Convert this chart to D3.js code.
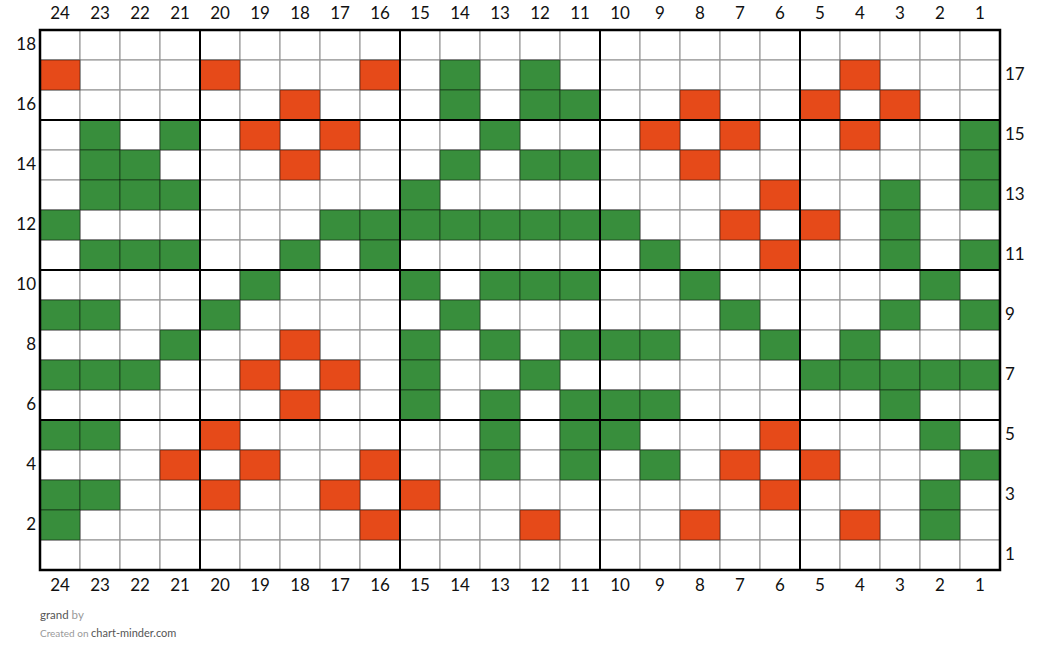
<!DOCTYPE html>
<html><head><meta charset="utf-8">
<script src="https://cdn.jsdelivr.net/npm/d3@7"></script>
<style>
html,body{margin:0;padding:0;background:#fff;}
text{font-family:Lato,"Noto Sans",sans-serif;}
</style></head>
<body><svg id="c" width="1040" height="663"></svg>
<script>
// Column numbers (left to right) and row numbers (top to bottom)
const columns = d3.range(24, 0, -1);
const rowNumbers = d3.range(18, 0, -1);
// Pattern rows, top (18) to bottom (1); chars left→right = columns 24..1
// '.' = empty, 'R' = orange, 'G' = green
const patternRows = [
  "........................", // 18
  "R...R...R.G.G.......R...", // 17
  "......R...G.GG..R..R.R..", // 16
  ".G.G.R.R...G...R.R..R..G", // 15
  ".GG...R...G.GG..R......G", // 14
  ".GGG.....G........R..G.G", // 13
  "G......GGGGGGGG..R.R.G..", // 12
  ".GGG..G.G......G..R..G.G", // 11
  ".....G...G.GGG..G.....G.", // 10
  "GG..G.....G......G...G.G", // 9
  "...G..R..G.G.GGG..G.G...", // 8
  "GGG..R.R.G..G......GGGGG", // 7
  "......R..G.G.GGG.....G..", // 6
  "GG..R......G.GG...R...G.", // 5
  "...R.R..R..G.G.G.R.R...G", // 4
  "GG..R..R.R........R...G.", // 3
  "G.......R...R...R...R.G.", // 2
  "........................"  // 1
];
const colorCodes = ["R", "G"];
const colorValues = ["#e64a19", "#388e3c"];
const leftLabels = [18, 16, 14, 12, 10, 8, 6, 4, 2];
const rightLabels = [17, 15, 13, 11, 9, 7, 5, 3, 1];
const colGroupBreaks = [20, 15, 10, 5];   // thick line right of these columns' left neighbours
const rowGroupBreaks = [15, 10, 5];       // thick line at top of these rows

const margin = {left: 40, top: 30};
const W = 960, H = 540;
const svg = d3.select("#c");
const g = svg.append("g").attr("transform", `translate(${margin.left},${margin.top})`);

const x = d3.scaleBand().domain(columns).range([0, W]);
const y = d3.scaleBand().domain(rowNumbers).range([0, H]);
const color = d3.scaleOrdinal().domain(colorCodes).range(colorValues);

const cells = [];
patternRows.forEach((s, ri) => {
  for (let ci = 0; ci < s.length; ci++) {
    cells.push({row: rowNumbers[ri], col: columns[ci], v: s[ci]});
  }
});

// white cells with grid
g.selectAll("rect.bg").data(cells).join("rect")
  .attr("class", "bg")
  .attr("x", d => x(d.col)).attr("y", d => y(d.row))
  .attr("width", x.bandwidth()).attr("height", y.bandwidth())
  .attr("fill", "#fff").attr("stroke", "#9a9a9a").attr("stroke-width", 1.2);

g.selectAll("rect.st").data(cells.filter(d => d.v !== ".")).join("rect")
  .attr("class", "st")
  .attr("x", d => x(d.col)).attr("y", d => y(d.row))
  .attr("width", x.bandwidth()).attr("height", y.bandwidth())
  .attr("fill", d => color(d.v)).attr("stroke", "rgba(0,0,0,0.45)").attr("stroke-width", 1);

// thick group lines
g.selectAll("line.vg").data(colGroupBreaks).join("line")
  .attr("x1", d => x(d)).attr("x2", d => x(d))
  .attr("y1", 0).attr("y2", H).attr("stroke", "#000").attr("stroke-width", 2);
g.selectAll("line.hg").data(rowGroupBreaks).join("line")
  .attr("y1", d => y(d)).attr("y2", d => y(d))
  .attr("x1", 0).attr("x2", W).attr("stroke", "#000").attr("stroke-width", 2);

g.append("rect").attr("x", 0).attr("y", 0).attr("width", W).attr("height", H)
  .attr("fill", "none").attr("stroke", "#000").attr("stroke-width", 2.5);

function styleAxis(sel) {
  sel.select(".domain").remove();
  sel.selectAll(".tick line").remove();
  sel.selectAll("text").attr("font-size", 17).attr("fill", "#111").attr("font-family", "Lato, sans-serif");
}

g.append("g").call(d3.axisTop(x).tickSize(0).tickPadding(11)).call(styleAxis);
g.append("g").attr("transform", `translate(0,${H})`)
  .call(d3.axisBottom(x).tickSize(0).tickPadding(9)).call(styleAxis);
g.append("g").call(d3.axisLeft(y).tickValues(leftLabels).tickSize(0).tickPadding(4)).call(styleAxis);
g.append("g").attr("transform", `translate(${W},0)`)
  .call(d3.axisRight(y).tickValues(rightLabels).tickSize(0).tickPadding(5)).call(styleAxis);

// footer
const f1 = svg.append("text").attr("x", 40).attr("y", 619).attr("font-size", 11.5);
f1.append("tspan").attr("fill", "#555").text("grand");
f1.append("tspan").attr("fill", "#999").text(" by");
const f2 = svg.append("text").attr("x", 40).attr("y", 637).attr("font-size", 10);
f2.append("tspan").attr("fill", "#999").text("Created on ");
f2.append("tspan").attr("fill", "#555").attr("font-size", 11).text("chart-minder.com");
</script></body></html>
